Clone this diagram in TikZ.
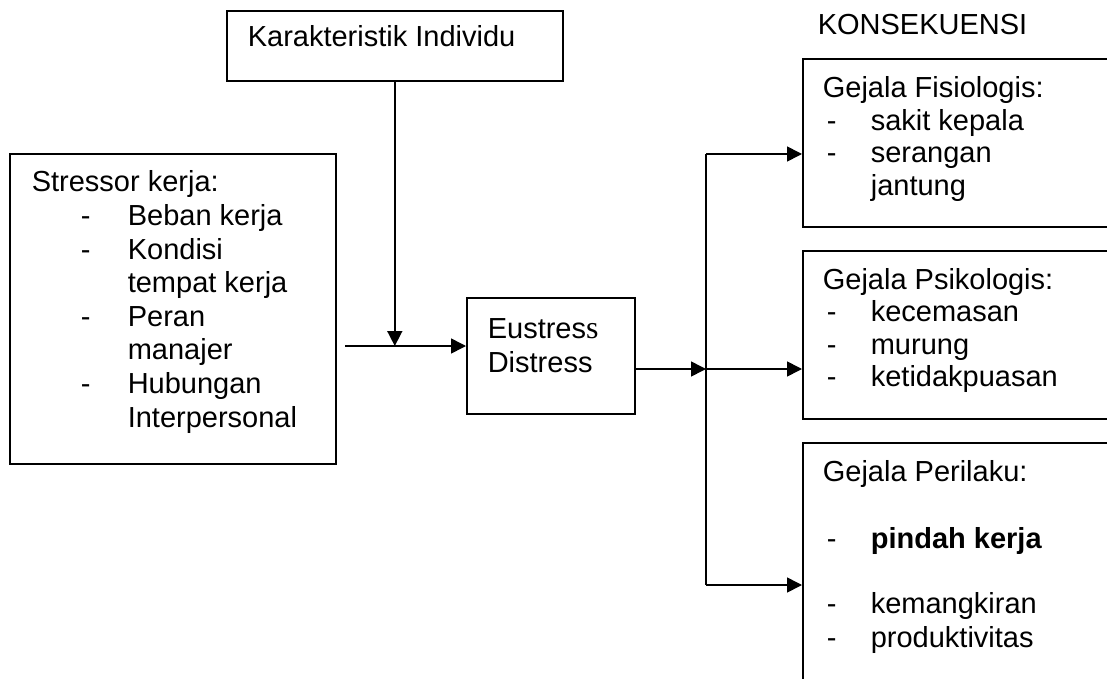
\documentclass[tikz,border=0pt]{standalone}
\usepackage{fontspec}
\setmainfont{Liberation Sans}
\newfontfamily\serifs{Liberation Serif}
\usetikzlibrary{arrows.meta}
\begin{document}
\begin{tikzpicture}[x=1pt,y=-1pt,line width=1.6pt,
  box/.style={draw,rectangle,inner sep=0pt,anchor=north west},
  txt/.style={anchor=base west,inner sep=0pt,font=\fontsize{29pt}{34pt}\selectfont},
  arr/.style={-{Triangle[length=15pt,width=15pt]}}]
\useasboundingbox (0,0) rectangle (1107,679);
\clip (0,0) rectangle (1107,679);
% boxes
\node[box,minimum width=336pt,minimum height=70pt] (ki) at (226,10) {};
\node[box,minimum width=326pt,minimum height=310pt] (st) at (9,153) {};
\node[box,minimum width=168pt,minimum height=116pt] (eus) at (466,297) {};
\node[box,minimum width=330pt,minimum height=168pt] (fis) at (802,58) {};
\node[box,minimum width=330pt,minimum height=168pt] (psi) at (802,250) {};
\node[box,minimum width=330pt,minimum height=260pt] (per) at (802,442) {};
% texts
\node[txt] (tkons) at (817,35) {KONSEKUENSI};
\node[txt] (tki) at (247,47) {Karakteristik Individu};
\node[txt] (ts0) at (31,191) {Stressor kerja:};
\node[txt] (ts1d) at (80,225) {-};
\node[txt] (ts1) at (127,225) {Beban kerja};
\node[txt] (ts2d) at (80,259) {-};
\node[txt] (ts2) at (127,259) {Kondisi};
\node[txt] (ts3) at (127,292) {tempat kerja};
\node[txt] (ts4d) at (80,326) {-};
\node[txt] (ts4) at (127,326) {Peran};
\node[txt] (ts5) at (127,359) {manajer};
\node[txt] (ts6d) at (80,393) {-};
\node[txt] (ts6) at (127,393) {Hubungan};
\node[txt] (ts7) at (127,427) {Interpersonal};
\node[txt] (te1) at (487,338) {Eustres{\fontsize{32pt}{34pt}\serifs s}};
\node[txt] (te2) at (487,372) {Distress};
\node[txt] (tf0) at (822,98) {Gejala Fisiologis:};
\node[txt] (tf1d) at (826,130.5) {-};
\node[txt] (tf1) at (870,130.5) {sakit kepala};
\node[txt] (tf2d) at (826,163) {-};
\node[txt] (tf2) at (870,163) {serangan};
\node[txt] (tf3) at (870,195.5) {jantung};
\node[txt] (tp0) at (822,289) {Gejala Psikologis:};
\node[txt] (tp1d) at (826,321.5) {-};
\node[txt] (tp1) at (870,321.5) {kecemasan};
\node[txt] (tp2d) at (826,354) {-};
\node[txt] (tp2) at (870,354) {murung};
\node[txt] (tp3d) at (826,386.5) {-};
\node[txt] (tp3) at (870,386.5) {ketidakpuasan};
\node[txt] (tr0) at (822,481) {Gejala Perilaku:};
\node[txt] (tr1d) at (826,548) {-};
\node[txt,font=\fontsize{29pt}{34pt}\selectfont\bfseries] (tr1) at (870,548) {pindah kerja};
\node[txt] (tr2d) at (826,613) {-};
\node[txt] (tr2) at (870,613) {kemangkiran};
\node[txt] (tr3d) at (826,647) {-};
\node[txt] (tr3) at (870,647) {produktivitas};
% connectors
\coordinate (s0) at (345,346);
\coordinate (j2) at (706,369);
\coordinate (jt) at (706,154);
\coordinate (jb) at (706,585);
\draw[arr] (ki.south) -- (ki.south |- s0);
\draw[arr] (s0) -- (s0 -| eus.west);
\draw[arr] (eus.east |- j2) -- (j2);
\draw[arr] (j2) -- (j2 -| psi.west);
\draw (jt) -- (jb);
\draw[arr] (jt) -- (jt -| fis.west);
\draw[arr] (jb) -- (jb -| per.west);
\end{tikzpicture}
\end{document}
